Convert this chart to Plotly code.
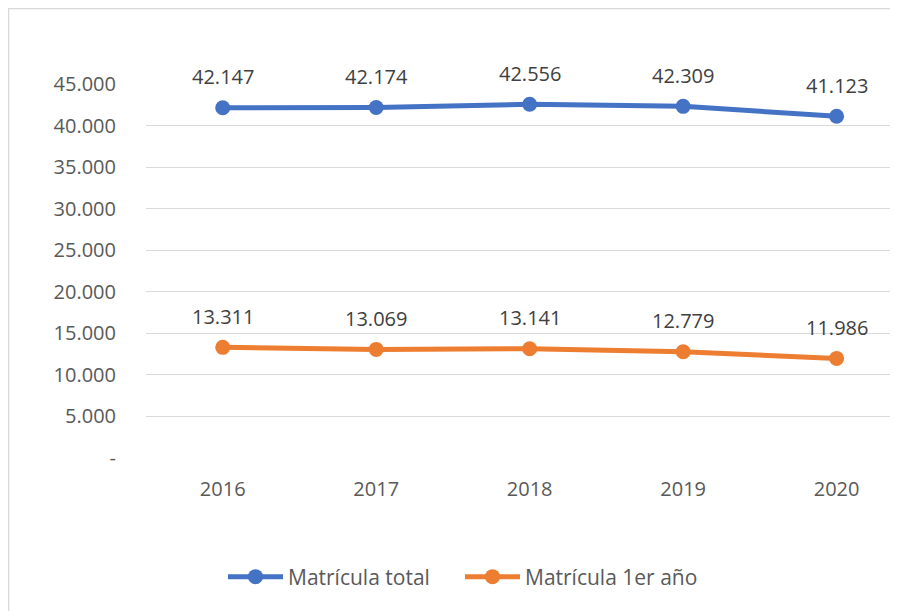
import plotly.graph_objects as go

years = ["2016", "2017", "2018", "2019", "2020"]
matricula_total = [42147, 42174, 42556, 42309, 41123]
matricula_1er = [13311, 13069, 13141, 12779, 11986]
y_tickvals = [0, 5000, 10000, 15000, 20000, 25000, 30000, 35000, 40000, 45000]
y_ticktext = ["-", "5.000", "10.000", "15.000", "20.000", "25.000", "30.000", "35.000", "40.000", "45.000"]

W, H = 890, 603
L, R, T, B = 138, 0, 76, 153
pw, ph = W - L - R, H - T - B

font_fam = "Open Sans, Liberation Sans, sans-serif"


def fmt(v):
    return f"{v:,}".replace(",", ".")


fig = go.Figure()
series = [("Matrícula total", matricula_total, "#4472C4"),
          ("Matrícula 1er año", matricula_1er, "#ED7D31")]
for name, vals, col in series:
    fig.add_trace(go.Scatter(
        x=list(range(len(years))), y=vals, name=name,
        mode="lines+markers",
        line=dict(color=col, width=5),
        marker=dict(color=col, size=15),
        cliponaxis=False,
    ))
    for i, v in enumerate(vals):
        fig.add_annotation(x=i, y=v, text=fmt(v), showarrow=False,
                           yshift=31, font=dict(size=20, color="#404040", family=font_fam))

fig.update_layout(
    width=W, height=H,
    margin=dict(l=L, r=R, t=T, b=B),
    paper_bgcolor="white", plot_bgcolor="white",
    font=dict(family=font_fam, size=20, color="#595959"),
    showlegend=True,
    legend=dict(orientation="h", xref="container", yref="container",
                x=215 / W, xanchor="left", y=1 - 569 / H, yanchor="middle",
                font=dict(size=21, color="#595959"), itemwidth=55, entrywidth=167),
    xaxis=dict(range=[-0.5, 4.4], tickvals=list(range(len(years))), ticktext=years,
               showgrid=False, zeroline=False, showline=False, ticks="",
               tickfont=dict(size=20, color="#595959"), ticklabelstandoff=17),
    yaxis=dict(range=[0, 45000], tickvals=y_tickvals, ticktext=y_ticktext,
               showgrid=True, gridcolor="#D9D9D9", gridwidth=1.3,
               zeroline=False, showline=False, ticks="",
               tickfont=dict(size=20, color="#595959"), ticklabelstandoff=29),
)

fig.add_shape(type="rect", xref="paper", yref="paper",
              x0=(0.5 - L) / pw, x1=1.1, y0=-0.6, y1=(H - B - 0.5) / ph,
              line=dict(color="#D9D9D9", width=1.5), fillcolor="rgba(0,0,0,0)", layer="below")

fig.write_html("out.html")
